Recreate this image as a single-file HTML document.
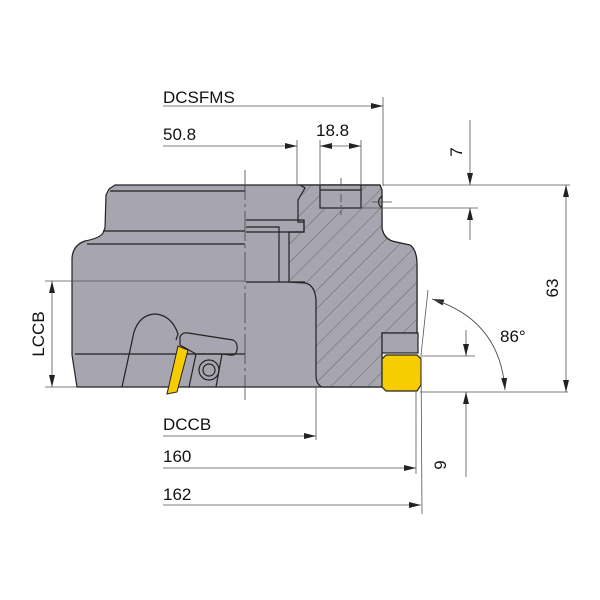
<!DOCTYPE html>
<html><head><style>body{margin:0;background:#fff}svg{display:block}</style></head><body>
<svg width="600" height="600" viewBox="0 0 600 600" xmlns="http://www.w3.org/2000/svg" font-family="Liberation Sans, DejaVu Sans, sans-serif">
<defs>
<pattern id="h" patternUnits="userSpaceOnUse" width="13" height="13" patternTransform="rotate(45)">
<rect width="13" height="13" fill="#a7a5af"/><line x1="0" y1="0" x2="0" y2="13" stroke="#555" stroke-width="0.8"/>
</pattern>
<marker id="a" markerWidth="12" markerHeight="6" refX="12" refY="3" orient="auto" markerUnits="userSpaceOnUse"><path d="M0,0 L12,3 L0,6z" fill="#222"/></marker>
</defs>
<path d="M115,185 L380,185 L382,190 L382,228 Q384,240 396,242 L410,245 Q417,250 417,265 L417,333 L382,333 L382,387 L77,387 L72,355 L72,258 Q73,245 85,241 Q100,238 103,233 L105,228 L106,195 L109,189 Z" fill="#a7a5af" stroke="#222" stroke-width="1.2"/>
<path d="M300,185 L380,185 L382,190 L382,228 Q384,240 396,242 L410,245 Q417,250 417,265 L417,333 L382,333 L382,387 L322,387 Q316,384 316,376 L316,300 Q315,285 305,283 L289,282 L289,232 L304,232 L304,222 L298,222 L298,200 L305,188 Z" fill="url(#h)" stroke="#222" stroke-width="1.2"/>
<g stroke="#222" stroke-width="1.2" fill="none">
<line x1="110" y1="191" x2="245" y2="191"/>
<line x1="103" y1="231" x2="245" y2="231"/>
<line x1="87" y1="244" x2="245" y2="244"/>
<line x1="75" y1="354" x2="245" y2="354"/>
<path d="M246,220 L304,220 L304,232 L246,232"/>
<path d="M246,227 L279,227 L279,282 L246,282"/>
<line x1="279" y1="282" x2="305" y2="282"/>
<rect x="320" y="185" width="41" height="23" fill="#a7a5af"/>
<line x1="320" y1="190" x2="361" y2="190"/>
<path d="M382,196 Q375,202 382,208" />
<path d="M122,387 L134,332 Q140,314 156,314 Q172,316 178,334 L176,340"/>
<path d="M180,345 L180,337 Q182,332 188,333 L233,340 Q238,342 237,350 Q236,356 230,355 L222,354 L216,387 M180,345 L196,354 L189,387"/>
<path d="M196,354 L222,354"/>
<circle cx="209" cy="370" r="10"/><circle cx="209" cy="370" r="6"/>
</g>
<path d="M178,346 L188,350 L177,392 L167,394 Z" fill="#f7cc00" stroke="#222" stroke-width="1"/>
<rect x="382" y="333" width="36" height="20" fill="#a7a5af" stroke="#222" stroke-width="1.2"/>
<path d="M386,355 L417,355 L421,359 L421,385 L417,391 L386,391 L382,387 L382,359 Z" fill="#f7cc00" stroke="#222" stroke-width="1.2"/>
<g stroke="#444" stroke-width="0.8" fill="none">
<line x1="245" y1="170" x2="245" y2="400" stroke-dasharray="30,4,3,4"/>
<line x1="341" y1="178" x2="341" y2="215" stroke-dasharray="8,3,2,3"/>
<line x1="372" y1="202" x2="392" y2="202"/>
</g>
<g stroke="#555" stroke-width="0.8" fill="none">
<line x1="383" y1="97" x2="383" y2="186"/>
<line x1="163" y1="106" x2="383" y2="106" marker-end="url(#a)"/>
<line x1="297" y1="140" x2="297" y2="185"/>
<line x1="163" y1="146" x2="297" y2="146" marker-end="url(#a)"/>
<line x1="320" y1="140" x2="320" y2="185"/>
<line x1="361" y1="140" x2="361" y2="185"/>
<line x1="341" y1="146" x2="320" y2="146" marker-end="url(#a)"/>
<line x1="341" y1="146" x2="361" y2="146" marker-end="url(#a)"/>
<line x1="383" y1="185" x2="570" y2="185"/>
<line x1="361" y1="208" x2="478" y2="208"/>
<line x1="470" y1="120" x2="470" y2="185" marker-end="url(#a)"/>
<line x1="470" y1="240" x2="470" y2="208" marker-end="url(#a)"/>
<line x1="566" y1="290" x2="566" y2="185" marker-end="url(#a)"/>
<line x1="566" y1="290" x2="566" y2="392" marker-end="url(#a)"/>
<line x1="420" y1="392" x2="568" y2="392"/>
<line x1="422" y1="356" x2="475" y2="356"/>
<line x1="466" y1="330" x2="466" y2="356" marker-end="url(#a)"/>
<line x1="466" y1="477" x2="466" y2="392" marker-end="url(#a)"/>
<line x1="428" y1="290" x2="421" y2="355"/>
<line x1="421" y1="355" x2="422" y2="514"/>
<line x1="416" y1="392" x2="416" y2="474"/>
<path d="M505,390 Q500,320 432,299" marker-end="url(#a)"/>
<path d="M432,299 Q500,320 505,390" marker-end="url(#a)"/>
<line x1="316" y1="387" x2="316" y2="440"/>
<line x1="163" y1="436" x2="316" y2="436" marker-end="url(#a)"/>
<line x1="163" y1="468" x2="416" y2="468" marker-end="url(#a)"/>
<line x1="163" y1="505" x2="421" y2="505" marker-end="url(#a)"/>
<line x1="45" y1="281" x2="245" y2="281"/>
<line x1="45" y1="387" x2="77" y2="387"/>
<line x1="52" y1="334" x2="52" y2="281" marker-end="url(#a)"/>
<line x1="52" y1="334" x2="52" y2="387" marker-end="url(#a)"/>
</g>
<g font-size="17" fill="#111">
<text x="163" y="103">DCSFMS</text>
<text x="163" y="140">50.8</text>
<text x="316" y="136">18.8</text>
<text x="500" y="342">86°</text>
<text x="163" y="430">DCCB</text>
<text x="163" y="462">160</text>
<text x="163" y="500">162</text>
<text transform="translate(462,152) rotate(-90)" text-anchor="middle">7</text>
<text transform="translate(558,288) rotate(-90)" text-anchor="middle">63</text>
<text transform="translate(446,465) rotate(-90)" text-anchor="middle">9</text>
<text transform="translate(44,334) rotate(-90)" text-anchor="middle">LCCB</text>
</g>
</svg>
</body></html>
